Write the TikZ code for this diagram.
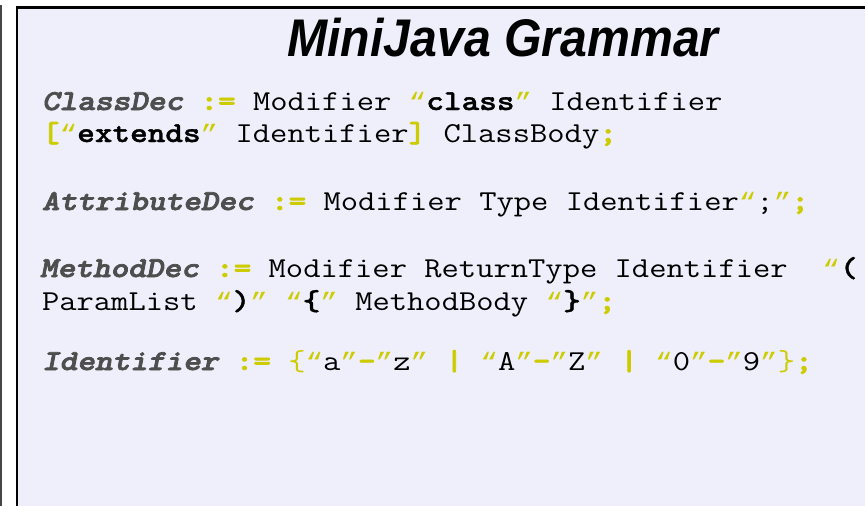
\documentclass[tikz,border=0pt]{standalone}
\usepackage{fontspec}
\setsansfont{Liberation Sans}
\newfontfamily\qfont{Liberation Mono}
\newfontfamily\ntfont{lmmonolt10-boldoblique.otf}[FakeBold=2.5]
\newfontfamily\bdfont{lmmonolt10-bold.otf}[FakeBold=2]
\newfontfamily\tbfont{lmmonolt10-bold.otf}[FakeBold=1.2]
\definecolor{ntgray}{RGB}{78,78,78}
\definecolor{ylw}{RGB}{204,204,0}
\definecolor{bgc}{RGB}{239,239,252}
\definecolor{edgegray}{RGB}{70,70,70}
\newcommand\NT[1]{\textcolor{ntgray}{\ntfont\fontsize{33.6}{38}\selectfont #1}}
\newcommand\YL[1]{\textcolor{ylw}{#1}}
\newcommand\YB[1]{\textcolor{ylw}{\bdfont\fontsize{33.6}{38}\selectfont #1}}
\newcommand\TB[1]{{\tbfont\fontsize{33.6}{38}\selectfont #1}}
\newcommand\OQ{\textcolor{ylw}{\qfont\fontsize{29.3}{33}\selectfont “}}
\newcommand\CQ{\textcolor{ylw}{\qfont\fontsize{29.3}{33}\selectfont ”}}
\tikzset{
  codeline/.style={anchor=base west, inner sep=0pt, outer sep=0pt,
    transform shape, yscale=0.86,
    font=\ttfamily\fontsize{33.6}{38}\selectfont},
  titlestyle/.style={anchor=base, inner sep=0pt, transform shape,
    font=\sffamily\bfseries\itshape\fontsize{53}{60}\selectfont}
}
\begin{document}
\begin{tikzpicture}[x=1pt,y=-1pt]
\useasboundingbox (0,0) rectangle (865,506);
\clip (0,0) rectangle (865,506);
\fill[white] (0,0) rectangle (865,506);
% outer left line
\draw[line width=2.5pt, edgegray] (1.2,5) -- (1.2,520);
% slide box
\draw[line width=2.6pt, fill=bgc] (17,7.2) rectangle (890,530);
% title
\node[titlestyle, xscale=0.91] (title) at (503,56) {MiniJava Grammar};
% grammar lines
\node[codeline] (l1) at (42,110) {{\NT{ClassDec}} {\YB{:=}} Modifier \OQ\TB{class}\CQ{} Identifier};
\node[codeline] (l2) at (42,142) {\YB{[}\OQ\TB{extends}\CQ{} Identifier{\YB{]}} ClassBody\YB{;}};
\node[codeline] (l3) at (42,210) {{\NT{AttributeDec}} {\YB{:=}} Modifier Type Identifier\OQ;\CQ\YB{;}};
\node[codeline] (l4) at (40,277) {{\NT{MethodDec}} {\YB{:=}} Modifier ReturnType Identifier \ \OQ\TB{(}};
\node[codeline] (l5) at (42,310) {ParamList \OQ\TB{)}\CQ{} \OQ\TB{\{}\CQ{} MethodBody \OQ\TB{\}}\CQ\YB{;}};
\node[codeline] (l6) at (42,370) {{\NT{Identifier}} {\YB{:=}} \YL{\{}\OQ{}a\CQ\YB{-}\CQ{}z\CQ{} {\YB{|}} \OQ{}A\CQ\YB{-}\CQ{}Z\CQ{} {\YB{|}} \OQ{}0\CQ\YB{-}\CQ{}9\CQ\YL{\}}\YB{;}};
\end{tikzpicture}
\end{document}
